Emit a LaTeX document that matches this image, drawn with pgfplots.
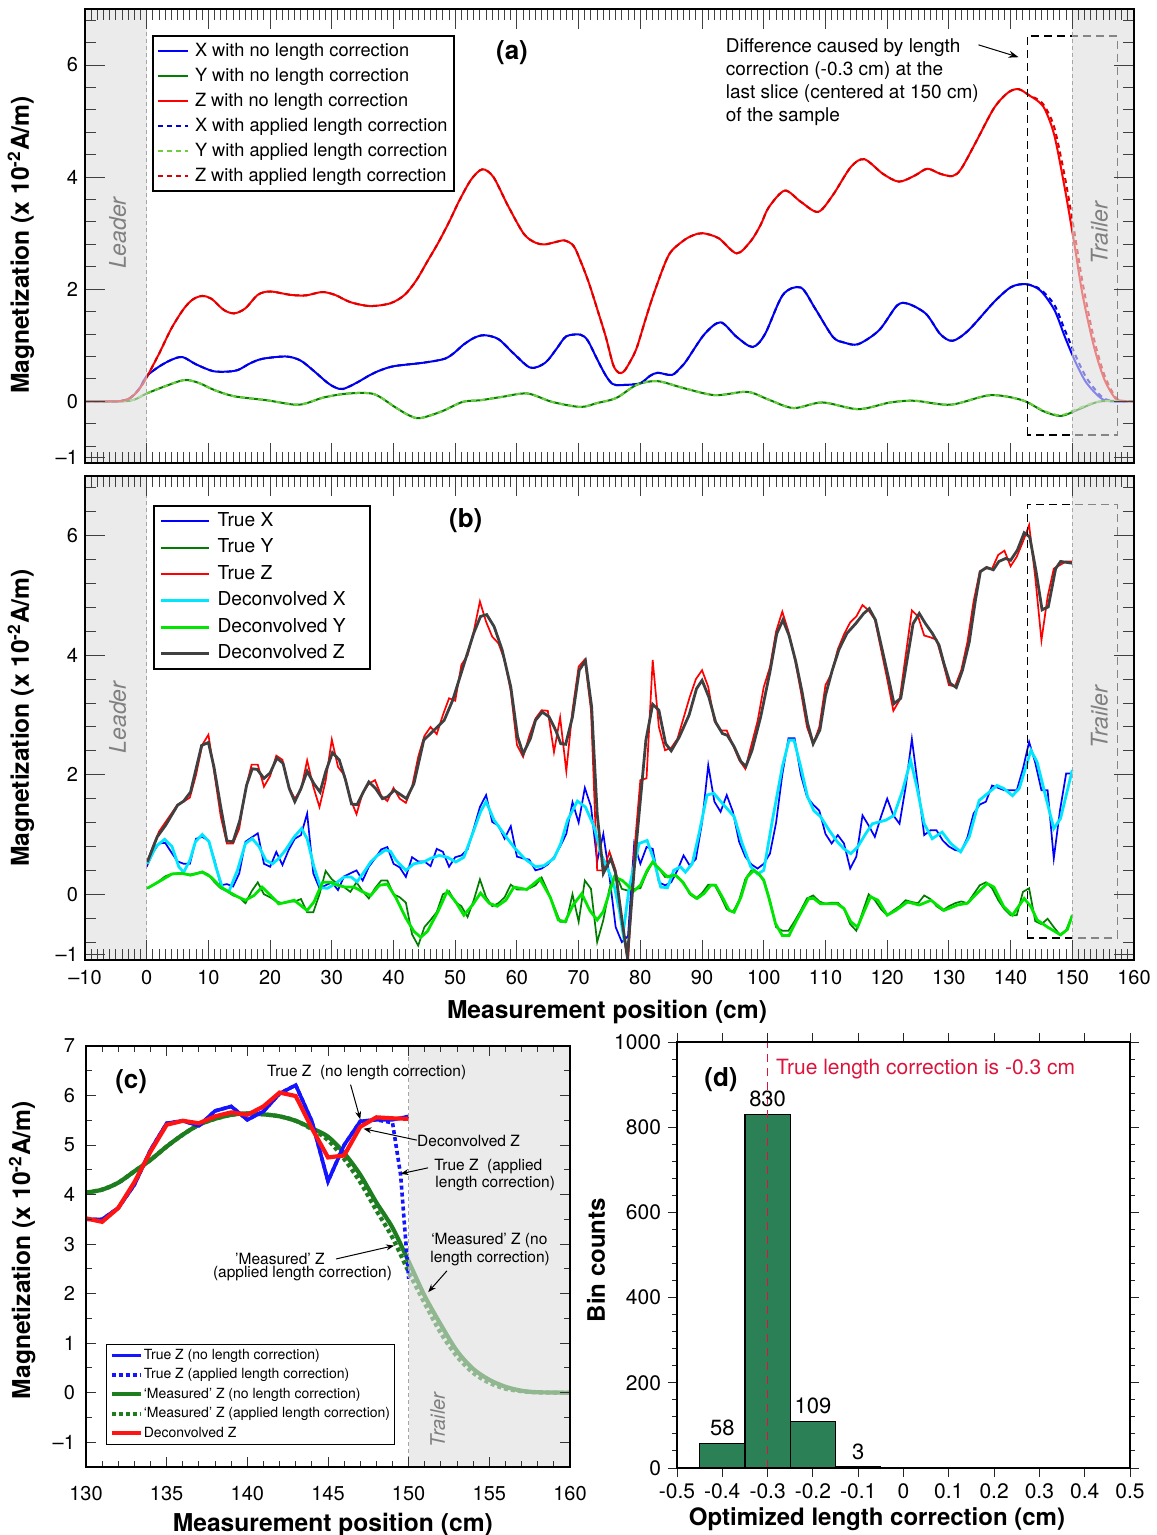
\documentclass[border=0pt]{standalone}
\usepackage{fontspec}
\setmainfont{TeX Gyre Heros}
\usepackage{pgfplots}
\pgfplotsset{compat=1.18}
\usetikzlibrary{arrows.meta}
\definecolor{dgreen}{RGB}{0,128,0}
\definecolor{lgreen}{RGB}{110,205,60}
\definecolor{tY}{RGB}{0,125,0}
\definecolor{dY}{RGB}{0,230,0}
\definecolor{dX}{RGB}{0,230,255}
\definecolor{dZ}{RGB}{64,64,64}
\definecolor{cgreen}{RGB}{30,125,30}
\definecolor{cblue}{RGB}{20,20,255}
\definecolor{cred}{RGB}{255,20,20}
\definecolor{barg}{RGB}{43,128,86}
\definecolor{crim}{RGB}{220,20,60}
\pgfplotsset{
  /pgf/number format/assume math mode=true,
  longax/.style={
    scale only axis, axis on top, width=524.5pt,
    xmin=-10, xmax=160, ymin=-1.1, ymax=7,
    xtick={-10,0,...,160}, minor x tick num=9,
    ytick={-1,0,2,4,6}, yticklabels={–1,0,2,4,6},
    minor ytick={-0.8,-0.4,0.4,0.8,1.2,1.6,2.4,2.8,3.2,3.6,4.4,4.8,5.2,5.6,6.4,6.8},
    major tick length=10pt, minor tick length=5.5pt,
    tick style={black!75, line width=0.5pt},
    axis line style={line width=0.8pt},
    tick label style={font=\fontsize{10}{12}\selectfont},
    label style={font=\bfseries\fontsize{12.3}{14}\selectfont},
    ylabel={Magnetization (x 10\textsuperscript{-2}A/m)},
    legend cell align=left,
  },
}
\begin{document}
\begin{tikzpicture}
\useasboundingbox (0,0) rectangle (578pt,-767.5pt);

% ---------------- (a) ----------------
\begin{axis}[longax, at={(42.5pt,-4.5pt)}, anchor=north west, height=227pt,
  xticklabels={},
  ylabel style={at={(axis description cs:-0.061,0.48)}, anchor=center},
  legend style={at={(axis description cs:0.0639,0.9427)}, anchor=north west, draw=black, line width=1pt,
    inner xsep=2pt, inner ysep=2pt, font=\fontsize{9.1}{10}\selectfont, row sep=1.3pt, column sep=2pt,
    nodes={inner sep=1pt, text height=7pt, text depth=2.2pt}},
  legend image code/.code={\draw[#1] (0pt,0pt) -- (15pt,0pt);},
]
\addplot[blue, line width=1pt, smooth, tension=0.5] coordinates {(-10,0) (-5,0) (-4,0.01) (-3,0.04) (-2,0.12) (-1,0.26) (0,0.45) (2,0.62) (4,0.74) (5.8,0.79) (8,0.66) (10.7,0.54) (13,0.53) (14.8,0.56) (16.8,0.68) (18.8,0.76) (22.6,0.8) (24.9,0.73) (27,0.55) (29.2,0.34) (30.5,0.25) (31.8,0.22) (34,0.33) (36.2,0.47) (38,0.56) (40.2,0.63) (44.9,0.69) (48.3,0.76) (50,0.88) (51.2,1.0) (53,1.13) (54.7,1.18) (57,1.11) (59.5,0.85) (62.2,0.6) (64.6,0.69) (66.5,0.95) (68,1.16) (70.3,1.19) (71.5,1.08) (73,0.75) (74.4,0.46) (75.5,0.31) (76.8,0.29) (79.9,0.32) (81.5,0.45) (82.8,0.51) (85.1,0.47) (86.5,0.6) (87.5,0.73) (90.4,1.2) (93,1.41) (95.6,1.15) (98.2,0.97) (100.2,1.2) (103.1,1.9) (106,2.03) (108.3,1.66) (111.2,1.15) (113,1.05) (115.3,1.02) (118.7,1.27) (121.6,1.71) (123.4,1.74) (126.3,1.56) (128.6,1.2) (130.6,1.08) (133.2,1.27) (137.3,1.77) (140.1,2.04) (142.5,2.09) (144.8,1.98) (147.1,1.63) (148.8,1.15) (150.6,0.68) (152.3,0.33) (154.6,0.06) (156.3,0) (160,0)};
\addlegendentry{X with no length correction}
\addplot[dgreen, line width=1pt, smooth, tension=0.5] coordinates {(-10,0) (-4,0) (-2,0.03) (0,0.14) (3,0.27) (6.1,0.38) (8.4,0.33) (11,0.2) (14.2,0.09) (19.4,0.02) (24,-0.06) (26,-0.03) (28.7,0.07) (32.7,0.14) (36.8,0.13) (40.2,-0.1) (42.5,-0.25) (44.3,-0.3) (47.8,-0.18) (51.2,-0.01) (54.1,0.02) (57.6,0.08) (61.7,0.14) (65.7,-0.01) (70.3,-0.1) (73,-0.03) (76.1,0.06) (79.5,0.3) (82.8,0.36) (86.9,0.24) (92.1,0.11) (97.3,0.17) (100.8,0.03) (104.8,-0.12) (109.5,-0.02) (115.3,-0.14) (120.5,-0.02) (124.5,0.01) (130.3,-0.06) (136.7,0.11) (141.9,0.02) (145.4,-0.18) (148.2,-0.26) (151.1,-0.14) (154.6,0) (160,0)};
\addlegendentry{Y with no length correction}
\addplot[red, line width=1pt, smooth, tension=0.5] coordinates {(-10,0) (-5,0) (-4,0.01) (-3,0.04) (-2,0.12) (-1,0.25) (0,0.43) (2,0.85) (4,1.3) (6,1.65) (7.5,1.82) (9,1.88) (10.5,1.83) (12.5,1.63) (14.2,1.57) (16,1.66) (18,1.9) (20,1.96) (23.3,1.9) (25.8,1.89) (28.4,1.95) (30.5,1.9) (33,1.77) (36.2,1.7) (39.5,1.75) (41.8,1.9) (43.7,2.16) (45.5,2.5) (47.2,2.82) (49,3.2) (50.7,3.59) (52.6,3.96) (54.4,4.14) (56.2,4.0) (58.5,3.5) (61.1,2.99) (63,2.83) (64.5,2.8) (66.2,2.84) (67.7,2.87) (69.2,2.77) (70.5,2.45) (71.7,2.1) (73,1.65) (74.4,1.15) (75.6,0.65) (76.5,0.51) (77.3,0.53) (78.3,0.7) (79.4,0.95) (80.8,1.45) (82.3,1.96) (84.6,2.61) (86.9,2.86) (88.5,2.96) (90.1,3.0) (92.7,2.91) (95.6,2.64) (97.9,2.86) (99.5,3.15) (100.8,3.46) (103.4,3.76) (106,3.56) (108.8,3.38) (111.2,3.68) (114.1,4.18) (116.3,4.32) (119.3,4.06) (121.9,3.92) (124.5,4.03) (126.5,4.15) (128.6,4.06) (130.6,4.02) (132,4.15) (134.4,4.63) (137.3,5.23) (139.6,5.51) (141.3,5.57) (143,5.46) (144.5,5.35) (145.6,5.2) (147.1,4.74) (148.8,3.79) (150.3,2.83) (151.7,1.88) (153.5,0.98) (155.2,0.39) (156.9,0.06) (158,0.01) (160,0)};
\addlegendentry{Z with no length correction}
\addplot[blue!85!black, line width=1pt, dash pattern=on 2.5pt off 2pt, smooth, tension=0.5] coordinates {(-10,0) (-5,0) (-4,0.01) (-3,0.04) (-2,0.12) (-1,0.26) (0,0.45) (2,0.62) (4,0.74) (5.8,0.79) (8,0.66) (10.7,0.54) (13,0.53) (14.8,0.56) (16.8,0.68) (18.8,0.76) (22.6,0.8) (24.9,0.73) (27,0.55) (29.2,0.34) (30.5,0.25) (31.8,0.22) (34,0.33) (36.2,0.47) (38,0.56) (40.2,0.63) (44.9,0.69) (48.3,0.76) (50,0.88) (51.2,1.0) (53,1.13) (54.7,1.18) (57,1.11) (59.5,0.85) (62.2,0.6) (64.6,0.69) (66.5,0.95) (68,1.16) (70.3,1.19) (71.5,1.08) (73,0.75) (74.4,0.46) (75.5,0.31) (76.8,0.29) (79.9,0.32) (81.5,0.45) (82.8,0.51) (85.1,0.47) (86.5,0.6) (87.5,0.73) (90.4,1.2) (93,1.41) (95.6,1.15) (98.2,0.97) (100.2,1.2) (103.1,1.9) (106,2.03) (108.3,1.66) (111.2,1.15) (113,1.05) (115.3,1.02) (118.7,1.27) (121.6,1.71) (123.4,1.74) (126.3,1.56) (128.6,1.2) (130.6,1.08) (133.2,1.27) (137.3,1.77) (140.1,2.04) (142.5,2.09) (144.8,2.0) (147.1,1.72) (148.8,1.27) (150.6,0.8) (152.3,0.42) (154.6,0.1) (156.3,0.01) (160,0)};
\addlegendentry{X with applied length correction}
\addplot[lgreen, line width=1pt, dash pattern=on 2.5pt off 2pt, smooth, tension=0.5] coordinates {(-10,0) (-4,0) (-2,0.03) (0,0.14) (3,0.27) (6.1,0.38) (8.4,0.33) (11,0.2) (14.2,0.09) (19.4,0.02) (24,-0.06) (26,-0.03) (28.7,0.07) (32.7,0.14) (36.8,0.13) (40.2,-0.1) (42.5,-0.25) (44.3,-0.3) (47.8,-0.18) (51.2,-0.01) (54.1,0.02) (57.6,0.08) (61.7,0.14) (65.7,-0.01) (70.3,-0.1) (73,-0.03) (76.1,0.06) (79.5,0.3) (82.8,0.36) (86.9,0.24) (92.1,0.11) (97.3,0.17) (100.8,0.03) (104.8,-0.12) (109.5,-0.02) (115.3,-0.14) (120.5,-0.02) (124.5,0.01) (130.3,-0.06) (136.7,0.11) (141.9,0.02) (145.4,-0.17) (148.2,-0.25) (151.1,-0.12) (154.6,0) (160,0)};
\addlegendentry{Y with applied length correction}
\addplot[red!85!black, line width=1pt, dash pattern=on 2.5pt off 2pt, smooth, tension=0.5] coordinates {(-10,0) (-5,0) (-4,0.01) (-3,0.04) (-2,0.12) (-1,0.25) (0,0.43) (2,0.85) (4,1.3) (6,1.65) (7.5,1.82) (9,1.88) (10.5,1.83) (12.5,1.63) (14.2,1.57) (16,1.66) (18,1.9) (20,1.96) (23.3,1.9) (25.8,1.89) (28.4,1.95) (30.5,1.9) (33,1.77) (36.2,1.7) (39.5,1.75) (41.8,1.9) (43.7,2.16) (45.5,2.5) (47.2,2.82) (49,3.2) (50.7,3.59) (52.6,3.96) (54.4,4.14) (56.2,4.0) (58.5,3.5) (61.1,2.99) (63,2.83) (64.5,2.8) (66.2,2.84) (67.7,2.87) (69.2,2.77) (70.5,2.45) (71.7,2.1) (73,1.65) (74.4,1.15) (75.6,0.65) (76.5,0.51) (77.3,0.53) (78.3,0.7) (79.4,0.95) (80.8,1.45) (82.3,1.96) (84.6,2.61) (86.9,2.86) (88.5,2.96) (90.1,3.0) (92.7,2.91) (95.6,2.64) (97.9,2.86) (99.5,3.15) (100.8,3.46) (103.4,3.76) (106,3.56) (108.8,3.38) (111.2,3.68) (114.1,4.18) (116.3,4.32) (119.3,4.06) (121.9,3.92) (124.5,4.03) (126.5,4.15) (128.6,4.06) (130.6,4.02) (132,4.15) (134.4,4.63) (137.3,5.23) (139.6,5.51) (141.3,5.57) (143,5.46) (144.5,5.38) (145.6,5.25) (147.1,4.88) (148.8,4.0) (150.3,3.05) (151.7,2.1) (153.5,1.12) (155.2,0.47) (156.9,0.09) (158,0.01) (160,0)};
\addlegendentry{Z with applied length correction}
\draw[black, line width=0.7pt, dash pattern=on 4pt off 2.5pt] (axis cs:142.7,-0.6) rectangle (axis cs:157.3,6.52);
\fill[black!13, fill opacity=0.6] (axis cs:-10,-1.1) rectangle (axis cs:0,7);
\fill[black!13, fill opacity=0.6] (axis cs:150,-1.1) rectangle (axis cs:160,7);
\draw[black!35, line width=0.6pt, dash pattern=on 2pt off 1.5pt] (axis cs:0,-1.1) -- (axis cs:0,7);
\draw[black!35, line width=0.6pt, dash pattern=on 2pt off 1.5pt] (axis cs:150,-1.1) -- (axis cs:150,7);
\node[rotate=90, text=black!50, font=\itshape\fontsize{11.5}{13}\selectfont] at (axis cs:-4.7,3.0) {Leader};
\node[rotate=90, text=black!50, font=\itshape\fontsize{11.5}{13}\selectfont] at (axis cs:154.4,3.0) {Trailer};
\node[font=\bfseries\fontsize{13}{15}\selectfont] at (axis cs:59.2,6.23) {(a)};
\node[anchor=north west, align=left, inner sep=0pt, font=\fontsize{9.5}{11.5}\selectfont] at (axis cs:93.8,6.48) {Difference caused by length\\correction (-0.3 cm) at the\\last slice (centered at 150 cm)\\of the sample};
\draw[-{Stealth[length=5pt,width=3.5pt]}, line width=0.5pt] (axis cs:134.8,6.36) -- (axis cs:141.3,6.14);
\end{axis}

% ---------------- (b) ----------------
\begin{axis}[longax, at={(42.5pt,-238pt)}, anchor=north west, height=242pt,
  xticklabels={–10,0,10,20,30,40,50,60,70,80,90,100,110,120,130,140,150,160},
  xticklabel style={yshift=-1.5pt},
  xlabel={Measurement position (cm)},
  xlabel style={at={(axis description cs:0.4976,-0.107)}, anchor=center},
  ylabel style={at={(axis description cs:-0.061,0.5)}, anchor=center},
  legend style={at={(axis description cs:0.0648,0.940)}, anchor=north west, draw=black, line width=0.8pt,
    inner xsep=3pt, inner ysep=2pt, font=\fontsize{9.6}{10}\selectfont, row sep=1.85pt, column sep=2.5pt,
    nodes={inner sep=1pt, text height=7.2pt, text depth=2.2pt}},
  legend image code/.code={\draw[#1] (0pt,0pt) -- (24pt,0pt);},
]
\addplot[blue, line width=0.85pt] coordinates {(0,0.46) (1,0.7) (2,0.85) (3,0.86) (4,0.7) (5,0.55) (6,0.51) (7,0.51) (8,0.93) (9,0.96) (10,0.9) (11,0.57) (12,0.15) (13,0.17) (14,0.13) (15,0.35) (16,0.88) (17,0.95) (18,1.02) (19,0.51) (20,0.46) (21,0.71) (22,0.49) (23,0.74) (24,0.93) (25,0.99) (26,1.35) (27,0.35) (28,0.1) (29,0.15) (30,0.2) (31,0.07) (32,0.3) (33,0.35) (34,0.4) (35,0.23) (36,0.46) (37,0.6) (38,0.75) (39,0.79) (40,0.51) (41,0.45) (42,0.29) (43,0.62) (44,0.55) (45,0.55) (46,0.47) (47,0.76) (48,0.71) (49,0.46) (50,0.62) (51,0.65) (52,0.75) (53,1.1) (54,1.46) (55,1.66) (56,1.21) (57,1.15) (58,0.93) (59,1.14) (60,0.63) (61,0.6) (62,0.58) (63,0.4) (64,0.43) (65,0.5) (66,0.62) (67,0.8) (68,1.01) (69,1.54) (70,1.2) (71,1.78) (72,1.47) (73,0.55) (74,1.01) (75,0.29) (76,-0.55) (77,-0.8) (78,-0.7) (79,0.85) (80,0.51) (81,0.79) (82,0.76) (83,0.2) (84,0.15) (85,0.2) (86,0.4) (87,0.65) (88,0.48) (89,0.59) (90,1.2) (91,2.16) (92,1.55) (93,1.38) (94,1.66) (95,1.38) (96,0.88) (97,0.63) (98,0.5) (99,0.43) (100,0.51) (101,0.68) (102,1.2) (103,2.0) (104,2.61) (105,2.61) (106,2.0) (107,1.63) (108,1.5) (109,1.4) (110,1.01) (111,0.85) (112,0.99) (113,0.85) (114,0.43) (115,0.63) (116,1.32) (117,1.15) (118,0.96) (119,1.3) (120,1.6) (121,1.32) (122,1.18) (123,1.8) (124,2.6) (125,1.8) (126,0.99) (127,1.07) (128,1.07) (129,0.9) (130,0.8) (131,0.74) (132,0.72) (133,0.95) (134,1.35) (135,1.5) (136,1.55) (137,1.82) (138,1.78) (139,1.74) (140,1.74) (141,1.74) (142,2.1) (143,2.55) (144,2.2) (145,1.74) (146,1.74) (147,0.6) (148,1.4) (149,2.02) (150,2.02)};
\addlegendentry{True X}
\addplot[tY, line width=0.85pt] coordinates {(0,0.1) (1,0.15) (2,0.22) (3,0.3) (4,0.34) (5,0.35) (6,0.34) (7,0.33) (8,0.35) (9,0.38) (10,0.33) (11,0.2) (12,0.1) (13,0.05) (14,-0.02) (15,-0.05) (16,-0.15) (17,0.05) (18,0.2) (19,0.0) (20,-0.05) (21,-0.12) (22,-0.15) (23,-0.12) (24,-0.12) (25,-0.08) (26,-0.3) (27,-0.3) (28,0.0) (29,0.39) (30,0.25) (31,0.17) (32,0.12) (33,0.04) (34,0.2) (35,0.05) (36,-0.07) (37,0.1) (38,0.23) (39,0.23) (40,0.0) (41,-0.05) (42,-0.14) (43,-0.67) (44,-0.86) (45,-0.55) (46,-0.43) (47,-0.3) (48,0.0) (49,0.05) (50,-0.13) (51,-0.2) (52,-0.38) (53,-0.1) (54,0.25) (55,-0.05) (56,-0.2) (57,-0.15) (58,-0.05) (59,0.16) (60,0.08) (61,0.08) (62,0.1) (63,0.15) (64,0.28) (65,0.05) (66,-0.2) (67,-0.46) (68,-0.46) (69,0.0) (70,-0.46) (71,0.23) (72,0.09) (73,-0.8) (74,-0.43) (75,0.1) (76,0.35) (77,0.09) (78,0.06) (79,0.09) (80,0.1) (81,0.35) (82,0.54) (83,0.43) (84,0.29) (85,0.32) (86,0.3) (87,0.2) (88,0.0) (89,-0.07) (90,0.02) (91,0.16) (92,0.16) (93,-0.03) (94,-0.25) (95,-0.3) (96,-0.1) (97,0.25) (98,0.4) (99,0.35) (100,0.25) (101,-0.1) (102,-0.55) (103,-0.61) (104,-0.61) (105,-0.45) (106,-0.27) (107,-0.07) (108,-0.02) (109,-0.12) (110,-0.16) (111,-0.14) (112,-0.14) (113,-0.24) (114,-0.5) (115,-0.61) (116,-0.3) (117,0.0) (118,-0.1) (119,-0.25) (120,-0.35) (121,-0.27) (122,-0.2) (123,-0.1) (124,-0.13) (125,-0.15) (126,-0.02) (127,-0.08) (128,-0.2) (129,-0.27) (130,-0.2) (131,-0.15) (132,-0.12) (133,-0.15) (134,0.0) (135,0.15) (136,0.2) (137,0.1) (138,-0.1) (139,-0.25) (140,-0.35) (141,-0.35) (142,0.04) (143,0.1) (144,-0.45) (145,-0.5) (146,-0.41) (147,-0.55) (148,-0.68) (149,-0.6) (150,-0.35)};
\addlegendentry{True Y}
\addplot[red, line width=0.85pt] coordinates {(0,0.5) (1,0.8) (2,1.05) (3,1.2) (4,1.35) (5,1.5) (6,1.55) (7,1.62) (8,2.0) (9,2.5) (10,2.67) (11,2.0) (12,1.3) (13,0.85) (14,0.85) (15,1.1) (16,1.75) (17,2.17) (18,2.17) (19,1.8) (20,1.98) (21,2.32) (22,2.25) (23,1.8) (24,1.6) (25,1.75) (26,2.24) (27,1.8) (28,1.46) (29,1.9) (30,2.59) (31,2.13) (32,2.0) (33,1.6) (34,1.34) (35,1.7) (36,1.85) (37,1.91) (38,1.65) (39,1.56) (40,1.78) (41,1.6) (42,1.53) (43,1.8) (44,2.3) (45,2.65) (46,2.8) (47,2.68) (48,3.0) (49,3.28) (50,3.24) (51,3.84) (52,4.0) (53,4.4) (54,4.9) (55,4.56) (56,4.31) (57,4.2) (58,3.92) (59,3.4) (60,2.5) (61,2.3) (62,2.65) (63,2.94) (64,3.08) (65,3.07) (66,2.38) (67,2.96) (68,2.06) (69,3.08) (70,3.81) (71,3.93) (72,3.08) (73,0.4) (74,0.4) (75,0.71) (76,0.4) (77,-0.5) (78,-1.15) (79,0.7) (80,1.91) (81,1.94) (82,3.92) (83,2.8) (84,2.41) (85,2.45) (86,2.6) (87,2.95) (88,3.3) (89,3.6) (90,3.75) (91,3.47) (92,2.9) (93,2.74) (94,2.74) (95,2.5) (96,2.25) (97,2.1) (98,2.5) (99,2.9) (100,3.47) (101,3.8) (102,4.4) (103,4.73) (104,4.4) (105,3.95) (106,3.4) (107,2.8) (108,2.51) (109,2.8) (110,3.5) (111,3.7) (112,4.1) (113,4.35) (114,4.55) (115,4.65) (116,4.84) (117,4.75) (118,4.6) (119,4.1) (120,3.6) (121,3.07) (122,3.25) (123,4.0) (124,4.75) (125,4.65) (126,4.33) (127,4.3) (128,4.26) (129,3.9) (130,3.5) (131,3.48) (132,3.75) (133,4.22) (134,4.9) (135,5.4) (136,5.45) (137,5.45) (138,5.68) (139,5.75) (140,5.49) (141,5.65) (142,5.9) (143,6.18) (144,5.3) (145,4.25) (146,4.98) (147,5.45) (148,5.51) (149,5.57) (150,5.57)};
\addlegendentry{True Z}
\addplot[dX, line width=1.4pt] coordinates {(0.1,0.51) (1.5,0.8) (2.9,0.92) (4.1,0.8) (5.2,0.46) (6.0,0.37) (7.0,0.57) (7.9,0.88) (9.0,1.0) (10.1,0.88) (11.2,0.46) (12.3,0.1) (13.3,0.04) (14.7,0.4) (16.0,0.85) (17.1,0.93) (18.2,0.8) (19.3,0.57) (20.4,0.51) (21.4,0.6) (22.5,0.74) (23.9,0.96) (25.1,1.1) (26.0,0.93) (27.1,0.46) (28.2,0.11) (29.3,0.1) (30.6,0.18) (32.0,0.29) (33.1,0.29) (34.1,0.21) (35.2,0.37) (36.3,0.54) (37.4,0.65) (38.7,0.74) (39.5,0.72) (40.4,0.57) (42,0.4) (43.3,0.51) (44.9,0.54) (46,0.6) (47.4,0.65) (48.7,0.62) (50.1,0.54) (51.4,0.62) (52.8,1.01) (54.1,1.38) (55,1.55) (56.3,1.24) (57.9,1.01) (59.5,0.79) (61.2,0.6) (63,0.46) (64.4,0.48) (66,0.6) (67.1,0.85) (68.2,1.24) (69.8,1.56) (71.1,1.46) (72.5,1.13) (73.6,0.68) (75,0.35) (75.8,0.12) (76.6,-0.27) (77.2,-0.66) (78.2,0.12) (79.8,0.85) (81.1,0.9) (82.2,0.57) (83.3,0.12) (84.4,0.11) (85.4,0.4) (86.5,0.46) (87.3,0.37) (88.4,0.51) (89.5,1.01) (90.8,1.66) (91.9,1.69) (93.3,1.52) (95.2,1.3) (96.5,0.85) (97.9,0.46) (99,0.34) (100,0.4) (101.4,1.24) (103,2.13) (104.1,2.58) (104.9,2.58) (106,2.13) (107.1,1.63) (108.1,1.4) (109.2,1.3) (110.6,1.07) (111.9,0.88) (113,0.76) (114.1,0.68) (115.2,0.79) (116.5,1.01) (117.6,1.18) (119.8,1.24) (121.1,1.32) (122.5,1.74) (123.8,2.24) (124.8,1.8) (126,1.18) (127.3,0.93) (128.9,1.04) (130.3,0.85) (131.9,0.71) (133.3,0.96) (134.9,1.57) (136.2,1.68) (137.8,1.82) (138.9,1.77) (140.3,1.65) (141.4,1.77) (143.3,2.41) (144.3,2.21) (145.7,1.63) (147,1.1) (148.1,1.27) (150,2.08)};
\addlegendentry{Deconvolved X\hspace*{8pt}}
\addplot[dY, line width=1.4pt] coordinates {(0.1,0.1) (2.3,0.23) (4.1,0.34) (5.7,0.35) (7.1,0.32) (9.0,0.37) (10.4,0.29) (12.0,0.12) (13.3,0.04) (14.7,-0.04) (16.0,-0.1) (17.4,-0.02) (18.7,0.12) (20.1,-0.02) (21.4,-0.16) (22.8,-0.13) (23.9,-0.1) (25.0,-0.19) (26.0,-0.27) (27.1,-0.13) (28.5,0.2) (29.8,0.2) (30.9,0.15) (32.2,0.12) (33.6,0.12) (35.0,0.04) (36.3,-0.02) (37.7,0.15) (39.0,0.17) (40.4,-0.06) (42,-0.4) (43.3,-0.62) (44.4,-0.72) (45.5,-0.62) (47.2,-0.29) (48.7,0.05) (50.1,-0.13) (51.4,-0.35) (52.8,-0.18) (54.1,0.02) (55.5,-0.15) (56.8,-0.2) (58.2,-0.1) (59.5,0.12) (61.6,0.08) (63.7,0.26) (65.4,-0.05) (66.7,-0.43) (67.8,-0.46) (69.1,-0.18) (70.5,0.01) (71.8,-0.27) (73,-0.43) (74,-0.29) (75.8,0.29) (77.1,0.23) (78.2,0.12) (79,0.06) (80,0.15) (81.1,0.4) (82,0.54) (83,0.43) (84.4,0.29) (85.7,0.32) (86.8,0.21) (88.1,0.01) (89.2,-0.07) (90.3,0.01) (91.4,0.15) (92.2,0.15) (93.3,-0.05) (94.4,-0.27) (95.2,-0.3) (96.3,-0.05) (97.3,0.29) (98.4,0.4) (99.2,0.34) (100,0.23) (100.8,-0.05) (101.9,-0.49) (103,-0.69) (104.1,-0.69) (105.2,-0.46) (106.2,-0.27) (107.3,-0.07) (108.1,-0.07) (109.2,-0.16) (110.6,-0.16) (111.9,-0.16) (113,-0.24) (114.1,-0.46) (115.2,-0.55) (116.2,-0.3) (117.3,-0.04) (118.5,-0.1) (120,-0.35) (121.4,-0.27) (123.3,-0.13) (125.2,-0.18) (127.1,-0.1) (129.2,-0.27) (131.4,-0.18) (133,-0.15) (134.6,0.02) (136.2,0.18) (137.3,0.12) (138.9,-0.21) (140.3,-0.35) (142.2,-0.07) (143.3,-0.21) (144.3,-0.43) (146,-0.55) (148.1,-0.68) (149.2,-0.59) (150,-0.35)};
\addlegendentry{Deconvolved Y}
\addplot[dZ, line width=1.4pt] coordinates {(0.1,0.54) (1.7,0.96) (3.1,1.16) (5.0,1.49) (6.0,1.56) (7.1,1.71) (8.9,2.49) (10.0,2.54) (10.9,2.13) (12.0,1.46) (13.0,0.89) (14.0,0.88) (15.1,1.24) (16.2,1.83) (17.1,2.1) (17.9,2.09) (19.0,1.94) (20.0,2.03) (21.1,2.28) (22.1,2.19) (23.1,1.77) (24.0,1.55) (25.0,1.77) (26.0,2.06) (27.1,1.85) (28.1,1.71) (29.0,2.05) (30.1,2.37) (31.2,2.25) (32.2,1.92) (33.2,1.51) (34.1,1.5) (35.1,1.71) (36.0,1.88) (37.1,1.77) (38.2,1.6) (39.0,1.63) (40.1,1.74) (42.1,1.6) (43.3,1.85) (44.9,2.58) (46.6,2.75) (48.2,2.91) (49.6,3.25) (51.2,3.78) (53.0,4.37) (54.1,4.65) (55.1,4.68) (56.3,4.48) (57.6,4.09) (59.0,3.47) (60.1,2.64) (61.0,2.35) (62.2,2.61) (63.0,2.91) (64.1,3.05) (65.2,2.97) (66.3,2.74) (67.1,2.52) (67.9,2.51) (69.0,2.97) (70.1,3.75) (71.1,3.91) (72.1,3.14) (73.0,1.35) (74.0,0.35) (75.2,0.6) (76.0,0.35) (77.1,-0.49) (77.9,-1.05) (79.2,0.68) (80.9,2.58) (82.0,3.18) (83.0,3.08) (84.1,2.52) (85.0,2.4) (86.3,2.63) (87.9,3.0) (89.1,3.44) (90.0,3.58) (91.1,3.3) (92.2,2.88) (93.3,2.69) (94.1,2.66) (95.2,2.47) (96.3,2.22) (97.1,2.14) (98.1,2.41) (99.5,2.97) (101,3.72) (102.1,4.36) (103.1,4.59) (104.1,4.33) (105.2,3.89) (106.2,3.39) (107.1,2.86) (108.0,2.52) (109.1,2.75) (110,3.33) (111.1,3.75) (112.2,4.1) (113.5,4.37) (114.9,4.53) (116.2,4.7) (117.1,4.78) (118.1,4.59) (119.2,4.09) (120.3,3.58) (121.1,3.19) (122.2,3.28) (123.3,3.97) (124.2,4.53) (125.2,4.7) (126.2,4.53) (127.3,4.37) (128.4,4.17) (129.2,3.86) (130.2,3.53) (131.2,3.46) (132.2,3.75) (133.3,4.22) (134.3,4.92) (135.1,5.4) (136.1,5.47) (137.2,5.43) (138.1,5.57) (139.2,5.62) (140,5.59) (141.1,5.76) (142.2,6.05) (143.1,5.98) (144.1,5.42) (145.1,4.76) (146.1,4.81) (147.3,5.45) (148.1,5.57) (150,5.54)};
\addlegendentry{Deconvolved Z}
\draw[black, line width=0.7pt, dash pattern=on 4pt off 2.5pt] (axis cs:142.7,-0.73) rectangle (axis cs:157.3,6.52);
\fill[black!13, fill opacity=0.6] (axis cs:-10,-1.1) rectangle (axis cs:0,7);
\fill[black!13, fill opacity=0.6] (axis cs:150,-1.1) rectangle (axis cs:160,7);
\draw[black!35, line width=0.6pt, dash pattern=on 2pt off 1.5pt] (axis cs:0,-1.1) -- (axis cs:0,7);
\draw[black!35, line width=0.6pt, dash pattern=on 2pt off 1.5pt] (axis cs:150,-1.1) -- (axis cs:150,7);
\node[rotate=90, text=black!50, font=\itshape\fontsize{11.5}{13}\selectfont] at (axis cs:-4.7,2.96) {Leader};
\node[rotate=90, text=black!50, font=\itshape\fontsize{11.5}{13}\selectfont] at (axis cs:154.4,2.96) {Trailer};
\node[font=\bfseries\fontsize{13}{15}\selectfont] at (axis cs:51.7,6.25) {(b)};
\end{axis}

% ---------------- (c) ----------------
\begin{axis}[at={(43pt,-523pt)}, anchor=north west, scale only axis, axis on top,
  width=242pt, height=210.5pt,
  xmin=130, xmax=160, ymin=-1.5, ymax=7,
  xtick={130,135,...,160}, minor x tick num=4,
  ytick={-1,0,...,7}, yticklabels={–1,0,1,2,3,4,5,6,7}, minor y tick num=1,
  major tick length=5pt, minor tick length=3pt,
  tick style={black!80, line width=0.5pt},
  axis line style={line width=0.8pt},
  tick label style={font=\fontsize{10}{12}\selectfont},
  xticklabel style={yshift=-6pt}, yticklabel style={xshift=-2pt},
  label style={font=\bfseries\fontsize{12.3}{14}\selectfont},
  xlabel={Measurement position (cm)},
  xlabel style={at={(axis description cs:0.51,-0.138)}, anchor=center},
  ylabel={Magnetization (x 10\textsuperscript{-2}A/m)},
  ylabel style={at={(axis description cs:-0.132,0.515)}, anchor=center},
  legend cell align=left,
  legend style={at={(axis description cs:0.0413,0.052)}, anchor=south west, draw=black, line width=0.6pt,
    inner xsep=1.5pt, inner ysep=1.5pt, font=\fontsize{7}{8}\selectfont, row sep=1.55pt,
    nodes={inner sep=0.6pt, text height=5.4pt, text depth=1.6pt}},
  legend image code/.code={\draw[#1] (0pt,0pt) -- (14.5pt,0pt);},
]
\addlegendimage{cblue, line width=1.8pt}
\addlegendentry{True Z (no length correction)}
\addlegendimage{cblue, line width=1.8pt, dash pattern=on 2pt off 1.5pt}
\addlegendentry{True Z (applied length correction)}
\addlegendimage{cgreen, line width=2pt}
\addlegendentry{`Measured' Z (no length correction)}
\addlegendimage{cgreen, line width=2pt, dash pattern=on 2pt off 1.5pt}
\addlegendentry{`Measured' Z (applied length correction)}
\addlegendimage{cred, line width=2pt}
\addlegendentry{Deconvolved Z}
\addplot[cgreen, line width=2.1pt, smooth, forget plot] coordinates {(130,4.04) (131,4.1) (132,4.24) (133,4.47) (134,4.7) (135,4.97) (136,5.21) (137,5.41) (138,5.53) (139,5.61) (140,5.64) (141,5.62) (142,5.58) (143,5.49) (144,5.34) (145,5.17) (146,4.84) (147,4.4) (148,3.84) (149,3.33) (150,2.65) (151,1.95) (152,1.37) (153,0.84) (154,0.48) (155,0.26) (156,0.12) (157,0.04) (158,0.01) (160,0)};
\addplot[cgreen, line width=2.1pt, dash pattern=on 2pt off 1.5pt, smooth, forget plot] coordinates {(130,4.04) (131,4.1) (132,4.24) (133,4.47) (134,4.7) (135,4.97) (136,5.21) (137,5.41) (138,5.53) (139,5.61) (140,5.64) (141,5.62) (142,5.58) (143,5.49) (144,5.32) (145,5.1) (146,4.72) (147,4.25) (148,3.68) (149,3.13) (150,2.44) (151,1.8) (152,1.2) (153,0.73) (154,0.4) (155,0.2) (156,0.08) (157,0.03) (158,0.005) (160,0)};
\addplot[cblue, line width=1.8pt, forget plot] coordinates {(130,3.5) (131,3.5) (132,3.73) (133,4.2) (134,4.9) (135,5.44) (136,5.49) (137,5.39) (138,5.69) (139,5.78) (140,5.51) (141,5.68) (142,6.04) (143,6.21) (144,5.48) (145,4.27) (146,5.0) (147,5.48) (148,5.51) (149,5.51) (150,5.58)};
\addplot[cblue, line width=1.8pt, dash pattern=on 2pt off 1.5pt, forget plot] coordinates {(130,3.5) (131,3.5) (132,3.73) (133,4.2) (134,4.9) (135,5.44) (136,5.49) (137,5.39) (138,5.69) (139,5.78) (140,5.51) (141,5.68) (142,6.04) (143,6.21) (144,5.48) (145,4.27) (146,5.0) (147,5.48) (148,5.51) (149,5.45) (149.5,4.4) (150,2.3)};
\addplot[cred, line width=2.1pt, forget plot] coordinates {(130,3.52) (131,3.45) (132,3.73) (133,4.25) (134,4.87) (135,5.41) (136,5.49) (137,5.44) (138,5.58) (139,5.66) (140,5.61) (141,5.78) (142,6.06) (143,5.99) (144,5.34) (145,4.75) (146,4.79) (147,5.37) (148,5.56) (149,5.54) (150,5.53)};
\fill[black!13, fill opacity=0.6] (axis cs:150,-1.5) rectangle (axis cs:160,7);
\draw[black!35, line width=0.6pt, dash pattern=on 2pt off 1.5pt] (axis cs:150,-1.5) -- (axis cs:150,7);
\node[rotate=90, text=black!50, font=\itshape\fontsize{10}{12}\selectfont] at (axis cs:151.8,-0.55) {Trailer};
\node[font=\bfseries\fontsize{13}{15}\selectfont] at (axis cs:132.8,6.28) {(c)};
\begin{scope}[font=\fontsize{7.75}{9}\selectfont, -{Stealth[length=4pt,width=3pt]}, line width=0.5pt]
\node[anchor=west, inner sep=0pt] at (axis cs:141.2,6.47) {True Z\ \ (no length correction)};
\draw (axis cs:146.4,6.22) -- (axis cs:147.0,5.52);
\node[anchor=west, inner sep=0pt] at (axis cs:150.5,5.09) {Deconvolved Z};
\draw (axis cs:150.5,5.1) -- (axis cs:147.2,5.33);
\node[anchor=west, inner sep=0pt] at (axis cs:151.56,4.57) {True Z\ \ (applied};
\node[anchor=west, inner sep=0pt] at (axis cs:151.63,4.22) {length correction)};
\draw (axis cs:151.2,4.54) -- (axis cs:149.5,4.42);
\node[inner sep=0pt] at (axis cs:142.02,2.70) {'Measured' Z};
\node[inner sep=0pt] at (axis cs:143.42,2.40) {(applied length correction)};
\draw (axis cs:145.5,2.70) -- (axis cs:149.1,2.97);
\node[inner sep=0pt] at (axis cs:155.0,3.08) {`Measured' Z (no};
\node[inner sep=0pt] at (axis cs:155.05,2.70) {length correction)};
\draw (axis cs:152.37,2.46) -- (axis cs:151.21,2.03);
\end{scope}
\end{axis}

% ---------------- (d) ----------------
\begin{axis}[at={(338.5pt,-521pt)}, anchor=north west, scale only axis, axis on top,
  width=226.5pt, height=213pt,
  xmin=-0.5, xmax=0.5, ymin=0, ymax=1000,
  tick align=outside,
  xtick={-0.5,-0.4,-0.3,-0.2,-0.1,0,0.1,0.2,0.3,0.4,0.5},
  xticklabels={-0.5,-0.4,-0.3,-0.2,-0.1,0,0.1,0.2,0.3,0.4,0.5},
  ytick={0,200,400,600,800,1000}, yticklabels={0,200,400,600,800,1000},
  minor y tick num=4,
  major tick length=4.5pt, minor tick length=2.5pt,
  tick style={black!85, line width=0.5pt},
  axis line style={line width=0.8pt},
  tick label style={font=\fontsize{10.5}{12}\selectfont},
  label style={font=\bfseries\fontsize{12}{14}\selectfont},
  xlabel={Optimized length correction (cm)},
  xlabel style={at={(axis description cs:0.4415,-0.12)}, anchor=center},
  ylabel={Bin counts},
  ylabel style={at={(axis description cs:-0.179,0.488)}, anchor=center},
]
\addplot[ybar, bar width=0.1, fill=barg, draw=black, line width=0.6pt,
  nodes near coords, every node near coord/.append style={font=\fontsize{11}{13}\selectfont, text=black}]
  coordinates {(-0.4,58) (-0.3,830) (-0.2,109) (-0.1,3)};
\draw[crim, line width=0.8pt, dash pattern=on 4pt off 3pt] (axis cs:-0.3,0) -- (axis cs:-0.3,1000);
\node[font=\bfseries\fontsize{13}{15}\selectfont] at (axis cs:-0.403,911) {(d)};
\node[anchor=west, inner sep=0pt, text=crim, font=\fontsize{10.5}{12}\selectfont] at (axis cs:-0.282,936) {True length correction is -0.3 cm};
\end{axis}
\end{tikzpicture}
\end{document}
